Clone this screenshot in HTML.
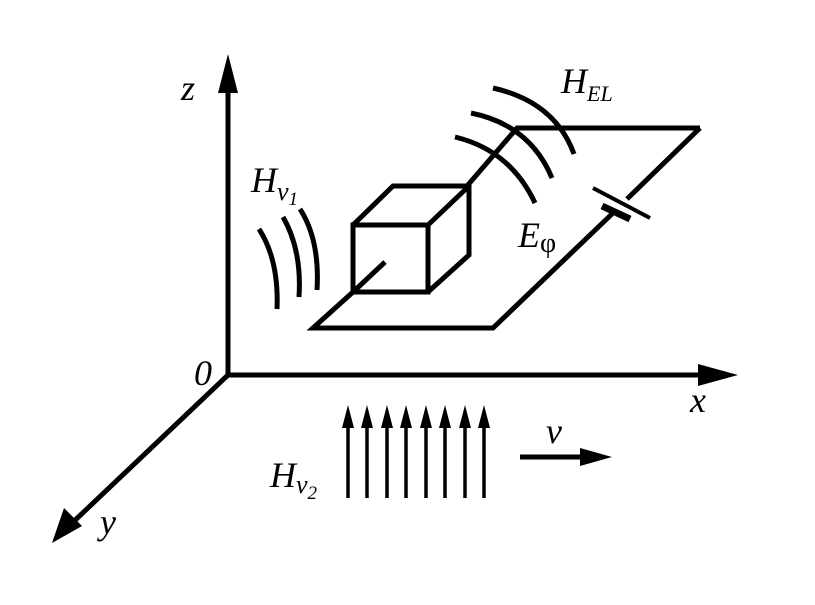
<!DOCTYPE html>
<html><head><style>body{margin:0;background:#fff}</style></head><body>
<svg width="815" height="600" viewBox="0 0 815 600" xmlns="http://www.w3.org/2000/svg" font-family="Liberation Serif, serif" font-style="italic">
<g stroke="#000" stroke-width="5" fill="none" stroke-linecap="butt" stroke-linejoin="miter">
<!-- axes -->
<line x1="228" y1="377" x2="228" y2="90"/>
<line x1="226" y1="375" x2="705" y2="375"/>
<line x1="228" y1="375" x2="70" y2="525"/>
<!-- plate -->
<polyline points="353,292 313,328 493,328 614,212"/>
<line x1="627" y1="199" x2="700" y2="128"/>
<polyline points="700,128 517,128 467,186"/>
<!-- cube -->
<rect x="353" y="225" width="75" height="67"/>
<polyline points="353,225 393,186 469,186 469,255 428,292"/>
<line x1="428" y1="225" x2="469" y2="186"/>
<line x1="352" y1="293" x2="385" y2="262"/>
<!-- arcs HEL -->
<path d="M455,137 Q510,150 535,203"/>
<path d="M471,113 Q530,125 552,178"/>
<path d="M493,88 Q555,102 574,154"/>
<!-- arcs Hv1 -->
<path d="M259,229 Q279,260 277,309"/>
<path d="M283,217 Q302,250 299,297"/>
<path d="M300,209 Q320,240 317,290"/>
<!-- Hv2 arrows -->
<g stroke-width="3.5">
<line x1="348" y1="425" x2="348" y2="498"/>
<line x1="367" y1="425" x2="367" y2="498"/>
<line x1="387" y1="425" x2="387" y2="498"/>
<line x1="406" y1="425" x2="406" y2="498"/>
<line x1="426" y1="425" x2="426" y2="498"/>
<line x1="445" y1="425" x2="445" y2="498"/>
<line x1="465" y1="425" x2="465" y2="498"/>
<line x1="484" y1="425" x2="484" y2="498"/>
</g>
<line x1="520" y1="457" x2="585" y2="457"/>
</g>
<line x1="593" y1="188" x2="650" y2="218" stroke="#000" stroke-width="4"/>
<line x1="602" y1="206" x2="630" y2="219" stroke="#000" stroke-width="7"/>
<g fill="#000">
<polygon points="228,54 218,93 238,93"/>
<polygon points="738,375 698,364 698,386"/>
<polygon points="52,543 64,508 82,526"/>
<polygon points="612,457 580,448 580,466"/>
<polygon points="348,405 342,428 354,428"/>
<polygon points="367,405 361,428 373,428"/>
<polygon points="387,405 381,428 393,428"/>
<polygon points="406,405 400,428 412,428"/>
<polygon points="426,405 420,428 432,428"/>
<polygon points="445,405 439,428 451,428"/>
<polygon points="465,405 459,428 471,428"/>
<polygon points="484,405 478,428 490,428"/>
</g>
<g fill="#000" font-size="36">
<text x="181" y="100">z</text>
<text x="194" y="385">0</text>
<text x="690" y="412">x</text>
<text x="100" y="534">y</text>
<text x="546" y="443">v</text>
<text x="251" y="192">H<tspan font-size="26" dy="8">v</tspan><tspan font-size="19" dy="5">1</tspan></text>
<text x="270" y="487">H<tspan font-size="26" dy="6">v</tspan><tspan font-size="19" dy="6">2</tspan></text>
<text x="561" y="93">H<tspan font-size="22" dy="8">EL</tspan></text>
<text x="518" y="247">E<tspan font-size="28" dy="5" font-style="normal">φ</tspan></text>
</g>
</svg>
</body></html>
